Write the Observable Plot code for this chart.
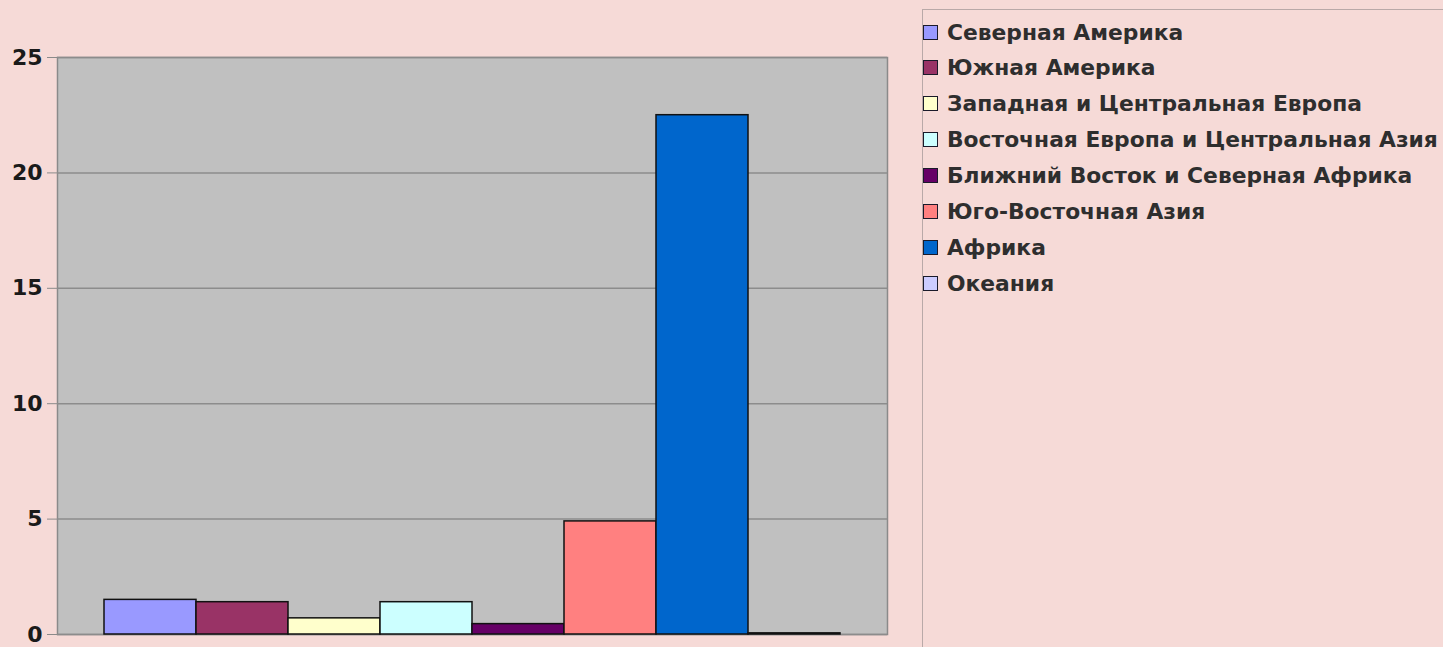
<!DOCTYPE html>
<html>
<head>
<meta charset="utf-8">
<script src="https://cdn.jsdelivr.net/npm/d3@7"></script>
<script src="https://cdn.jsdelivr.net/npm/@observablehq/plot@0.6"></script>
<style>
  html, body { margin: 0; padding: 0; background: #f6dad7; }
  #wrap { position: relative; width: 1443px; height: 647px; overflow: hidden; background: #f6dad7; }
  #chart { position: absolute; left: 0; top: 0; }
  #legend { position: absolute; left: 922px; top: 9px; width: 530px; height: 660px;
            border-top: 1.5px solid #b9a9a8; border-left: 1.5px solid #b9a9a8; box-sizing: border-box;
            font-family: "DejaVu Sans", sans-serif; font-size: 21.8px; font-weight: bold; color: #2e2e2e; }
  .item { position: absolute; left: 0; height: 24px; display: flex; align-items: center; white-space: nowrap; }
  .sw { width: 13px; height: 13px; border: 1.5px solid #1a1a2a; margin-right: 9px; flex: none; }
</style>
</head>
<body>
<div id="wrap">
  <div id="chart"></div>
  <div id="legend"></div>
</div>
<script>
const regions = [
  "Северная Америка",
  "Южная Америка",
  "Западная и Центральная Европа",
  "Восточная Европа и Центральная Азия",
  "Ближний Восток и Северная Африка",
  "Юго-Восточная Азия",
  "Африка",
  "Океания"
];
const values = [1.5, 1.4, 0.7, 1.4, 0.45, 4.9, 22.5, 0.05];
const colors = ["#9999ff", "#993366", "#ffffcc", "#ccffff", "#660066", "#ff8080", "#0066cc", "#ccccff"];
const yTicks = [0, 5, 10, 15, 20, 25];

const data = regions.map((r, i) => ({region: r, value: values[i]}));

const chart = Plot.plot({
  width: 915,
  height: 647,
  marginLeft: 57,
  marginRight: 28,
  marginTop: 57,
  marginBottom: 13,
  style: {background: "transparent", fontFamily: "DejaVu Sans", fontSize: "22px", color: "#1a1a1a"},
  x: {type: "band", domain: regions, paddingInner: 0, paddingOuter: 0.48, axis: null},
  y: {domain: [0, 25], ticks: yTicks},
  color: {domain: regions, range: colors},
  marks: [
    Plot.frame({fill: "#c0c0c0", stroke: "#8a8a8a", strokeWidth: 1.5}),
    Plot.ruleY(yTicks, {stroke: "#8c8c8c", strokeWidth: 1.5}),
    Plot.barY(data, {x: "region", y: "value", fill: "region", stroke: "#111", strokeWidth: 1.5, insetLeft: 0, insetRight: 0}),
    Plot.axisY({ticks: yTicks, tickSize: 10, tickPadding: 5, stroke: "#8a8a8a", fontWeight: "bold", label: null}),
    Plot.ruleX([0], {frameAnchor: "left", stroke: "#777", strokeWidth: 1.5})
  ]
});
document.getElementById("chart").appendChild(chart);

const legend = document.getElementById("legend");
regions.forEach((r, i) => {
  const item = document.createElement("div");
  item.className = "item";
  item.style.top = (10 + i * 35.9) + "px";
  const sw = document.createElement("span");
  sw.className = "sw";
  sw.style.background = colors[i];
  const t = document.createElement("span");
  t.textContent = r;
  item.appendChild(sw);
  item.appendChild(t);
  legend.appendChild(item);
});
</script>
</body>
</html>
